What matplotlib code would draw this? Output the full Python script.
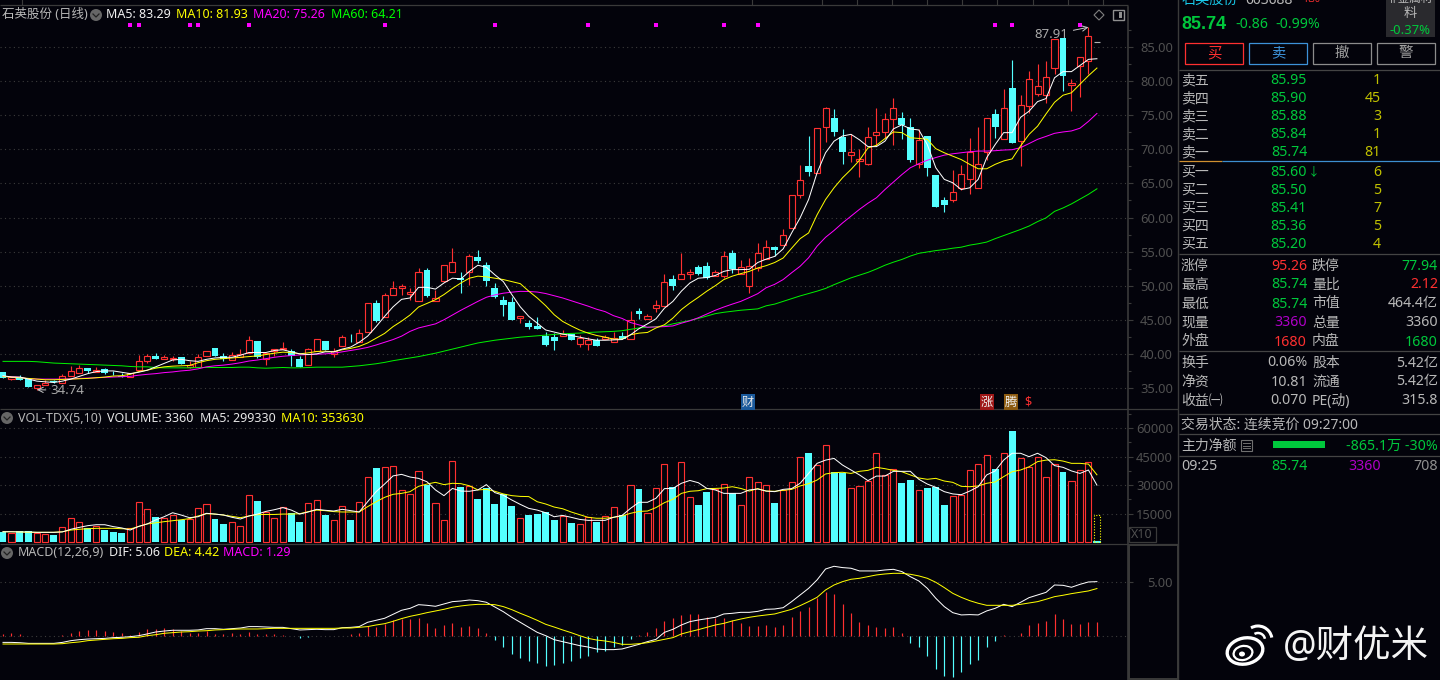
import matplotlib
matplotlib.use("Agg")
import matplotlib.pyplot as plt
from matplotlib.patches import Rectangle, Ellipse, Arc, Polygon

plt.rcParams['font.family'] = ['Noto Sans', 'Noto Sans CJK SC', 'DejaVu Sans']

W, H = 1440, 680
BG = '#03030b'
RED = '#ff3030'
CYAN = '#54ffff'
GRID = '#3c3c3c'
AXIS = '#3a3a3a'
TICK = '#505050'
LABEL = '#b8b8b8'
GREEN = '#00c83c'
LINE_W = 0.72
EDGE_W = 0.82

# Daily prices
opens = [37.3,36.3,36.5,36.3,35.0,35.4,36.0,35.8,36.8,37.25,
         37.9,37.4,37.75,37.4,36.8,36.6,37.7,38.9,39.7,39.2,
         39.3,39.5,38.1,38.04,39.76,40.84,39.66,39.1,39.56,40.15,
         41.9,39.3,40.35,40.7,40.4,39.27,38.44,40.35,41.87,40.0,
         41.2,42.36,41.8,43.19,47.46,45.35,48.58,49.66,48.73,47.7,
         52.36,47.7,50.64,51.96,51.1,51.96,54.27,53.1,49.7,47.95,
         47.65,45.2,44.56,44.1,42.55,42.5,42.55,42.95,41.4,41.43,
         41.97,42.16,41.67,42.65,42.16,46.33,45.05,46.8,46.96,50.98,
         50.94,51.7,52.8,52.95,51.38,51.38,54.86,51.7,49.9,52.6,
         53.97,55.73,55.98,58.48,63.33,67.5,66.57,73.33,74.65,71.81,
         69.2,68.28,67.84,72.15,72.55,74.5,74.56,73.33,67.84,72.0,
         66.17,62.6,62.6,64.3,65.68,64.3,69.65,75.15,71.57,79.07,
         71.2,76.37,78.09,78.0,81.96,86.32,79.5,82.26,83.0,85.74]
closes = [36.5,36.65,36.2,35.2,35.5,35.8,35.9,36.7,37.45,37.9,
          37.45,37.6,37.15,37.3,36.6,37.25,38.9,39.66,39.25,39.5,
          39.4,38.5,38.4,39.6,40.4,39.7,39.3,39.8,40.0,42.0,
          39.56,40.2,40.7,40.84,39.7,38.14,40.7,42.16,40.6,40.4,
          42.46,42.26,43.04,47.46,44.76,48.63,49.66,49.9,49.07,52.0,
          48.53,48.2,53.04,53.5,50.9,54.37,53.68,50.74,48.4,47.2,
          44.9,45.54,43.9,43.7,41.3,41.9,42.9,42.1,42.3,42.0,
          41.18,42.45,42.26,42.16,44.9,45.9,45.54,47.16,50.54,50.0,
          51.7,52.0,51.7,51.08,52.0,54.37,52.45,52.75,52.95,54.8,
          55.7,55.19,57.45,63.33,65.53,66.66,73.18,76.12,72.55,69.6,
          69.65,68.62,71.86,72.6,74.5,76.12,73.5,68.38,71.32,67.25,
          61.52,61.8,63.77,66.42,69.6,67.9,74.65,73.3,76.13,71.0,
          76.57,80.25,79.36,80.54,86.13,80.74,79.8,83.48,86.57,85.74]
highs = [37.3,36.65,36.9,36.3,35.5,36.2,36.2,37.06,38.24,38.4,
         37.9,38.04,37.95,37.5,37.15,37.25,39.85,40.0,40.15,39.8,
         39.7,39.5,38.9,40.0,40.4,40.84,40.1,40.3,40.74,42.65,
         41.9,40.2,40.7,41.77,40.75,39.7,40.85,42.16,41.87,40.84,
         42.8,42.85,43.68,47.46,47.9,48.9,50.74,50.25,49.66,52.65,
         52.65,49.4,53.04,55.6,52.06,54.66,55.3,53.5,50.4,48.5,
         48.3,45.54,45.0,45.4,43.24,43.0,43.5,42.95,42.75,42.5,
         42.4,42.8,43.24,43.14,46.33,46.67,45.84,47.95,51.77,51.5,
         54.86,52.45,53.1,53.5,52.36,55.15,55.3,53.83,54.07,56.28,
         56.77,55.88,58.33,63.33,67.64,71.96,73.18,76.25,75.88,73.0,
         72.2,70.0,73.33,76.0,75.4,77.6,75.54,74.56,73.0,72.0,
         66.17,63.04,66.9,67.74,71.7,73.23,74.65,75.9,78.8,83.09,
         77.9,81.5,82.5,82.9,86.13,86.32,80.3,83.48,87.91,85.74]
lows = [36.5,36.1,36.2,35.2,34.74,35.4,35.8,35.8,36.8,37.25,
        37.2,37.3,37.0,36.9,36.6,36.6,37.7,38.7,39.25,39.2,
        38.9,38.5,38.0,38.04,39.76,39.7,39.0,39.1,39.56,40.15,
        39.45,38.3,39.7,40.7,38.24,38.14,38.44,40.35,40.6,39.56,
        41.2,41.7,41.8,43.19,44.7,45.35,48.58,48.68,47.95,47.7,
        48.3,47.7,50.64,51.96,48.97,50.15,53.3,49.9,48.2,45.6,
        44.9,44.6,43.6,43.7,41.1,40.5,42.55,42.0,41.03,40.5,
        41.1,42.16,41.67,42.16,42.16,45.1,45.05,46.1,46.96,49.3,
        50.94,51.03,51.5,51.0,51.38,51.08,51.87,51.7,49.0,52.1,
        53.97,54.3,55.98,58.48,62.84,66.07,66.57,71.07,71.9,67.8,
        68.13,65.93,67.7,70.5,71.7,70.63,71.47,68.13,67.3,66.07,
        61.52,60.78,62.25,64.0,63.48,64.3,68.5,71.7,71.57,71.0,
        67.55,75.4,77.85,76.86,81.03,78.58,75.64,77.7,81.03,85.74]

ma5 = [36.8,36.6,36.6,36.3,36.0,35.9,35.8,36.0,36.3,36.7,
       37.1,37.4,37.5,37.5,37.3,37.1,37.3,37.6,38.1,38.6,
       39.1,39.2,39.0,38.9,39.2,39.4,39.5,39.5,39.8,40.2,
       40.2,40.2,40.5,40.6,40.3,40.0,39.9,40.0,40.3,40.3,
       40.7,41.0,41.7,42.6,44.0,45.5,46.9,48.0,48.2,49.76,
       49.76,49.5,50.4,51.1,51.0,52.1,53.0,52.7,51.6,50.6,
       48.7,46.9,45.5,44.5,43.5,43.2,42.9,42.7,42.45,42.2,
       42.0,42.0,42.05,42.1,42.8,43.7,44.4,45.15,46.7,47.7,
       49.2,50.4,51.1,51.2,51.5,52.1,52.36,52.36,52.4,53.4,
       53.9,54.3,55.4,57.74,59.95,62.64,66.57,69.5,71.2,71.96,
       72.2,71.4,70.4,70.4,71.2,73.0,73.6,73.0,72.84,70.7,
       67.3,65.6,65.1,64.1,64.36,65.6,68.77,70.7,72.45,72.45,
       74.7,75.6,77.0,77.45,80.5,81.4,81.4,82.3,83.2,83.29]
ma10 = [36.67,36.6,36.5,36.4,36.3,36.2,36.2,36.25,36.3,36.35,
        36.4,36.5,36.6,36.75,36.8,37.0,37.4,37.6,37.9,38.1,
        38.2,38.25,38.3,38.7,39.0,39.2,39.3,39.4,39.5,39.6,
        39.7,39.9,40.1,40.25,40.2,40.0,40.15,40.35,40.4,40.3,
        40.6,40.8,41.1,41.6,42.3,43.0,44.0,44.8,45.7,46.87,
        47.4,47.95,48.7,49.6,50.4,51.1,51.4,51.3,51.1,50.9,
        50.6,50.3,49.2,48.2,47.06,45.74,44.76,44.1,43.5,43.04,
        42.7,42.45,42.16,42.16,42.8,43.04,43.14,43.8,44.27,45.25,
        46.5,47.45,48.3,49.2,50.0,50.9,51.4,51.77,52.1,52.6,
        52.94,53.4,54.06,55.5,56.9,57.74,60.4,62.64,64.36,65.83,
        67.05,68.4,70.2,70.6,71.57,72.55,72.45,71.7,71.6,71.47,
        70.1,69.5,69.0,68.5,67.8,67.15,67.15,67.8,68.3,68.6,
        70.5,72.2,73.4,75.2,76.9,77.94,78.3,79.56,80.8,81.93]
ma20 = [36.7,36.65,36.55,36.35,36.3,36.3,36.3,36.3,36.33,36.4,
        36.45,36.5,36.55,36.6,36.65,36.7,36.87,37.0,37.1,37.25,
        37.35,37.5,37.6,37.8,38.1,38.25,38.35,38.5,38.7,38.95,
        39.1,39.3,39.5,39.65,39.75,39.85,39.9,39.95,40.0,40.1,
        40.3,40.5,40.7,40.95,41.3,41.7,42.1,42.6,43.3,43.8,
        44.1,44.4,45.0,45.7,46.4,47.05,47.7,48.3,48.65,48.9,
        49.05,49.17,49.15,49.07,48.85,48.53,48.2,47.8,47.4,47.0,
        46.55,46.2,45.6,45.2,44.6,44.25,43.9,43.95,44.0,44.1,
        44.5,44.85,45.3,45.84,46.4,46.87,47.3,47.7,48.25,48.83,
        49.7,50.2,50.9,51.9,52.85,54.1,55.8,57.1,58.1,59.2,
        60.2,61.2,62.1,62.9,64.1,65.2,66.3,67.3,67.9,68.4,
        68.8,69.15,69.35,69.5,69.65,69.75,69.75,69.8,69.9,69.95,
        70.25,70.85,71.47,71.9,72.35,72.55,72.7,73.1,74.1,75.26]
ma60 = [38.9,38.9,38.9,38.9,38.85,38.75,38.65,38.6,38.55,38.5,
        38.45,38.4,38.35,38.3,38.25,38.15,38.1,38.1,38.0,37.95,
        37.95,37.95,37.95,38.0,38.0,38.0,38.0,38.0,38.05,38.05,
        37.95,37.9,37.95,38.0,37.95,37.95,38.0,38.05,38.05,38.05,
        38.05,38.15,38.25,38.4,38.55,38.75,39.0,39.2,39.4,39.6,
        39.85,40.1,40.4,40.7,41.0,41.3,41.6,41.8,42.0,42.15,
        42.3,42.45,42.55,42.65,42.75,42.85,42.95,43.0,43.05,43.14,
        43.2,43.25,43.3,43.4,43.6,43.8,43.9,44.0,44.1,44.4,
        44.65,44.9,45.2,45.55,45.9,46.1,46.25,46.4,46.5,46.6,
        47.05,47.3,47.7,48.1,48.5,48.85,49.2,49.6,50.15,50.65,
        51.15,51.55,51.95,52.45,53.0,53.45,53.85,54.35,54.75,54.95,
        55.15,55.3,55.5,55.65,55.95,56.15,56.4,56.9,57.35,57.8,
        58.25,58.75,59.4,59.95,60.9,61.4,62.0,62.7,63.4,64.21]

# Volume, in the units of the axis labels (x10)
volume = [5440,4910,5610,5610,4910,4030,3680,7890,12450,10350,
          7190,8240,6310,5260,4740,7540,20870,17190,12980,12450,
          14030,11400,12280,17720,19820,12100,9470,10350,8240,24560,
          21570,15790,12450,18420,15440,10520,20350,21930,14210,11400,
          18770,11580,20870,34030,38940,39290,39820,27190,25080,37180,
          30170,20350,11400,42450,28940,29290,22630,28410,20000,25260,
          18940,12450,14210,14730,15790,11580,13860,10000,9300,12980,
          10520,13510,18240,14030,29820,27890,15080,28240,40870,28940,
          41920,23500,19470,26310,27890,30340,25610,19290,34030,31400,
          29820,20520,27360,31400,44550,46830,40340,50870,36830,36480,
          28240,29290,31920,46660,35080,38240,31050,32620,27190,28410,
          29120,19470,24030,24560,37710,40870,45600,38410,46660,58410,
          44030,39290,44550,34030,40870,36830,31920,37710,41920,336]
volume_forecast = 14030
vol_ma5 = [5.4,5.4,5.3,5.3,5.1,5.1,5.1,5.3,6.7,7.7,
           8.6,9.1,9.1,8.1,7.4,6.3,8.2,9.5,11.6,13.3,
           15.4,14.2,12.8,13.3,15.1,14.7,14.2,13.0,12.1,13.7,
           14.7,16.1,17.0,18.1,16.8,14.7,15.8,17.2,16.7,16.3,
           17.2,16.5,15.8,21.2,26.5,30.5,34.8,35.6,34.2,33.5,
           31.7,27.4,24.4,28.2,26.8,26.7,27.4,30.2,26.0,24.6,
           22.1,19.8,17.7,16.8,15.4,13.3,14.0,13.0,11.9,11.4,
           11.4,11.4,13.0,14.0,17.7,20.9,20.9,23.0,28.1,28.2,
           30.9,32.4,31.2,28.2,27.4,25.6,25.6,25.6,27.4,27.9,
           26.8,26.5,27.7,28.1,30.9,36.1,41.4,43.1,44.0,40.5,
           37.9,35.3,32.3,34.7,34.7,37.2,37.2,37.2,33.0,30.5,
           28.8,26.5,25.3,24.9,26.8,29.1,35.3,37.4,43.1,46.7,
           46.7,44.9,46.7,44.4,40.2,39.3,37.4,36.1,37.9,29.933]
vol_ma10 = [5.4,5.4,5.3,5.1,5.1,5.1,5.1,5.4,6.3,6.7,
            7.0,7.2,7.2,7.2,7.0,6.8,8.2,9.5,10.1,10.7,
            11.2,11.7,12.3,13.7,14.9,14.7,14.2,13.5,12.8,13.7,
            14.4,14.5,14.5,14.7,14.7,14.9,16.0,16.8,16.5,16.0,
            15.8,15.8,15.8,18.6,21.2,23.5,25.1,25.6,26.5,29.3,
            30.5,31.4,30.2,30.9,30.7,29.6,27.4,27.7,26.7,25.3,
            24.4,24.0,23.9,21.2,20.0,18.4,17.5,15.8,14.4,13.0,
            12.5,12.5,13.0,13.7,15.1,16.1,16.3,18.1,20.7,22.5,
            25.6,26.7,27.0,28.1,28.2,28.4,29.1,28.2,26.8,28.1,
            26.8,26.7,27.2,27.7,29.5,30.7,32.6,35.8,36.5,36.7,
            36.1,37.2,37.7,39.3,38.6,37.7,37.0,35.3,33.7,33.0,
            33.5,32.1,31.4,29.3,29.1,29.5,30.9,31.6,34.4,37.0,
            37.9,39.6,42.3,43.1,43.3,42.6,41.4,41.4,41.0,35.363]

# MACD
dif = [-.56,-.56,-.59,-.65,-.65,-.65,-.65,-.56,-.40,-.31,
       -.25,-.22,-.19,-.12,-.09,-.03,.06,.22,.40,.49,
       .56,.56,.56,.59,.71,.71,.65,.71,.77,.90,
       .90,.86,.83,.83,.71,.59,.62,.65,.62,.62,
       .80,.83,.90,1.30,1.48,1.67,2.04,2.41,2.59,2.93,
       2.87,2.78,2.99,3.21,3.27,3.36,3.30,3.15,2.72,2.28,
       1.76,1.30,.83,.37,.06,-.31,-.49,-.68,-.86,-.99,
       -1.17,-1.23,-1.23,-1.17,-.96,-.74,-.49,-.28,.37,.65,
       1.05,1.36,1.51,1.64,1.76,2.07,2.13,2.22,2.22,2.31,
       2.50,2.53,2.65,3.21,3.83,4.44,5.22,6.23,6.48,6.36,
       6.30,6.05,6.05,6.05,6.14,6.20,5.99,5.52,5.12,4.44,
       3.52,2.75,2.19,1.98,2.01,1.98,2.35,2.59,2.96,2.75,
       3.15,3.58,3.83,4.07,4.75,4.72,4.54,4.81,5.03,5.06]
dea = [-.71,-.71,-.71,-.71,-.71,-.71,-.71,-.68,-.59,-.52,
       -.40,-.34,-.28,-.22,-.19,-.12,-.09,.06,.15,.28,
       .34,.40,.43,.49,.52,.59,.62,.65,.68,.68,
       .68,.71,.74,.74,.74,.74,.74,.74,.74,.74,
       .77,.77,.83,.90,1.05,1.17,1.39,1.64,1.85,2.01,
       2.19,2.35,2.50,2.69,2.81,2.90,2.96,2.96,2.93,2.75,
       2.47,2.13,1.82,1.48,1.11,.86,.59,.34,.06,-.19,
       -.34,-.43,-.56,-.74,-.74,-.68,-.59,-.43,-.28,-.12,
       .22,.43,.62,.83,1.05,1.20,1.42,1.60,1.76,1.88,
       1.98,2.07,2.28,2.50,2.84,3.21,3.61,4.29,4.75,5.06,
       5.28,5.37,5.52,5.68,5.77,5.83,5.83,5.74,5.59,5.37,
       5.00,4.51,3.98,3.61,3.30,3.06,2.87,2.87,2.87,2.87,
       2.96,3.09,3.21,3.43,3.67,3.80,3.95,4.07,4.20,4.42]
macd = [.19,.28,.19,.03,.03,.03,.03,.12,.28,.49,
        .59,.59,.49,.43,.31,.15,.37,.71,.71,.74,
        .68,.49,.34,.34,.49,.25,.22,.31,.25,.40,
        .19,.25,.19,.12,.06,-.19,-.06,.01,.01,.01,
        .06,.19,.31,.93,.90,1.11,1.54,1.60,1.60,1.70,
        1.20,.77,1.05,1.23,.90,.96,.74,.31,-.34,-.96,
        -1.60,-1.98,-2.25,-2.50,-2.72,-2.62,-2.44,-2.25,-2.04,-1.79,
        -1.42,-1.33,-.96,-.80,-.22,.12,.40,.80,1.42,1.70,
        1.98,2.07,2.07,1.79,1.67,1.73,1.48,1.27,.96,.96,
        1.05,.86,1.05,1.82,2.35,2.72,3.58,4.07,3.92,2.99,
        2.19,1.33,1.05,.86,.77,.86,.31,-.62,-.96,-1.79,
        -3.02,-3.64,-3.77,-3.33,-2.56,-2.19,-.96,-.43,.12,.03,
        .31,1.05,1.23,1.42,2.07,1.60,1.14,1.14,1.33,1.29]

x = list(range(len(closes)))
up = [c > o for o, c in zip(opens, closes)]
XLIM = (-3 / 8.48, 1125 / 8.48)

price_ticks = [85, 80, 75, 70, 65, 60, 55, 50, 45, 40, 35]
volume_ticks = [60000, 45000, 30000, 15000]
macd_ticks = [5]
signal_days = [15, 16, 22, 23, 29, 45, 58, 69, 77, 85, 89, 117, 119, 127]

fig = plt.figure(figsize=(W / 100, H / 100), dpi=100, facecolor=BG)


def pane(left, top, right, bottom, ylim):
    ax = fig.add_axes([left / W, 1 - bottom / H, (right - left) / W, (bottom - top) / H])
    ax.set_facecolor(BG)
    ax.set_xlim(*XLIM)
    ax.set_ylim(*ylim)
    ax.set_xticks([])
    for side in ('left', 'top', 'bottom'):
        ax.spines[side].set_visible(False)
    ax.spines['right'].set_color(AXIS)
    ax.spines['right'].set_linewidth(1.2)
    ax.yaxis.tick_right()
    return ax


def axis_ticks(ax, ticks, fmt, minor):
    ax.set_yticks(ticks)
    ax.set_yticklabels([fmt.format(v) for v in ticks], color=TICK, fontsize=9.3, ha='right')
    ax.set_yticks(minor, minor=True)
    ax.tick_params(axis='y', which='major', length=3.8, width=0.8, color=AXIS, pad=28.5)
    ax.tick_params(axis='y', which='minor', length=2.2, width=0.8, color=AXIS)
    ax.grid(axis='y', which='major', color=GRID, linestyle=(0, (1, 3)), linewidth=0.8)
    ax.set_axisbelow(True)


# Candlestick pane
ax_p = pane(0, 7, 1128, 408, (32.06, 90.88))
axis_ticks(ax_p, price_ticks, '{:.2f}', [v + 2.5 for v in price_ticks])
for i in x:
    o, c, h, l = opens[i], closes[i], highs[i], lows[i]
    if o == c:
        ax_p.hlines(c, i - 0.38, i + 0.38, color='#b0b0b0', lw=EDGE_W)
    elif up[i]:
        ax_p.vlines(i, c, h, color=RED, lw=EDGE_W)
        ax_p.vlines(i, l, o, color=RED, lw=EDGE_W)
        ax_p.bar(i, c - o, bottom=o, width=0.72, facecolor=BG, edgecolor=RED, linewidth=EDGE_W)
    else:
        ax_p.vlines(i, l, h, color=CYAN, lw=EDGE_W)
        ax_p.bar(i, c - o, bottom=o, width=0.82, color=CYAN, linewidth=0)
ax_p.plot(x, ma60, color='#00f000', lw=LINE_W)
ax_p.plot(x, ma20, color='#ff00ff', lw=LINE_W)
ax_p.plot(x, ma10, color='#ffff00', lw=LINE_W)
ax_p.plot(x, ma5, color='#ffffff', lw=LINE_W)
ax_p.scatter(signal_days, [88.24] * len(signal_days), marker='s', s=6, color='#ff00ff', linewidths=0)
ax_p.annotate('87.91', xy=(128, 87.91), xytext=(1034, 680 - 34), textcoords='figure pixels',
              color='#a8a8a8', fontsize=9.5, va='center', ha='left',
              arrowprops=dict(arrowstyle='->', color='#c8c8c8', lw=0.7,
                              shrinkA=2, shrinkB=0, relpos=(1, 0.7)))
ax_p.annotate('34.74', xy=(4, 34.74), xytext=(50, 680 - 390), textcoords='figure pixels',
              color='#a8a8a8', fontsize=9.5, va='center', ha='left',
              arrowprops=dict(arrowstyle='->', color='#c8c8c8', lw=0.7,
                              shrinkA=1, shrinkB=0, relpos=(0, 0.5)))

# Volume pane
ax_v = pane(0, 409, 1128, 544, (-1050, 70000))
axis_ticks(ax_v, volume_ticks, '{:d}', [v - 7500 for v in volume_ticks] + [67500])
for i in x:
    if up[i]:
        ax_v.bar(i, volume[i], width=0.72, facecolor=BG, edgecolor=RED, linewidth=EDGE_W)
    else:
        thin = volume[i] < 1000
        ax_v.bar(i, volume[i], width=0.82, color=CYAN, edgecolor=CYAN, linewidth=0.8 if thin else 0)
ax_v.bar(x[-1], volume_forecast, width=0.72, facecolor='none', edgecolor='#ffff00',
         linewidth=0.8, linestyle=(0, (1, 1.5)))
ax_v.plot(x, [v * 1000 for v in vol_ma10], color='#ffff00', lw=LINE_W)
ax_v.plot(x, [v * 1000 for v in vol_ma5], color='#ffffff', lw=LINE_W)

# MACD pane
ax_m = pane(0, 545, 1128, 680, (-4.04, 8.45))
axis_ticks(ax_m, macd_ticks, '{:.2f}', [])
ax_m.axhline(0, color=GRID, linestyle=(0, (1, 3)), linewidth=0.8)
ax_m.vlines([i for i in x if macd[i] >= 0], 0, [m for m in macd if m >= 0], color=RED, lw=0.85)
ax_m.vlines([i for i in x if macd[i] < 0], 0, [m for m in macd if m < 0], color=CYAN, lw=0.85)
ax_m.plot(x, dif, color='#ffffff', lw=LINE_W)
ax_m.plot(x, dea, color='#ffff00', lw=LINE_W)

# Full-figure layer for headers, side panel and decoration
ov = fig.add_axes([0, 0, 1, 1], facecolor='none')
ov.set_xlim(0, W)
ov.set_ylim(H, 0)
ov.axis('off')


def t(px, py, s, color=LABEL, size=9.6, ha='left', **kw):
    ov.text(px, py + 1, s, color=color, fontsize=size, ha=ha, va='center', **kw)


def rule(y, x0=1179, x1=1440, color='#444444', lw=0.9):
    ov.plot([x0, x1], [y, y], color=color, lw=lw, solid_capstyle='butt')


def chevron(px, py):
    ov.add_patch(Ellipse((px, py), 12, 12, color='#666666', lw=0))
    ov.plot([px - 3, px, px + 3], [py - 1, py + 2, py - 1], color='#222222', lw=0.9)


# Pane separators and date strip
rule(5, 0, 1128, '#3a3a3a')
rule(408.5, 0, 1178, '#3a3a3a')
rule(544, 0, 1178, '#3a3a3a')
for px in (22, 752, 822, 857, 892, 927, 962, 997, 1033, 1068, 1103):
    ov.plot([px, px], [0, 5], color='#3a3a3a', lw=0.8)
ov.plot([1178, 1178], [0, 680], color='#3a3a3a', lw=1.0)
ov.add_patch(Rectangle((1128.5, 545), 49.5, 134, fill=False, edgecolor='#3a3a3a', lw=1.4))
ov.add_patch(Rectangle((1128.5, 527), 27, 15, fill=False, edgecolor='#3a3a3a', lw=0.9))
t(1142, 534, 'X10', TICK, 9, ha='center')

# Pane headers
HEAD = 9.0
t(2, 14, '石英股份 (日线)', LABEL, 9.0)
chevron(96, 15)
t(106, 14, 'MA5: 83.29', '#f0f0f0', HEAD)
t(176, 14, 'MA10: 81.93', '#ffff00', HEAD)
t(253, 14, 'MA20: 75.26', '#ff00ff', HEAD)
t(331, 14, 'MA60: 64.21', '#00ff00', HEAD)
ov.add_patch(Polygon([(1099, 10), (1104, 15), (1099, 20), (1094, 15)], fill=False, edgecolor='#808080', lw=0.8))
ov.add_patch(Rectangle((1113, 10), 11, 10, fill=False, edgecolor='#909090', lw=1.0))
ov.add_patch(Rectangle((1119, 12), 3, 6, color='#909090', lw=0))
chevron(7, 418)
t(18, 417, 'VOL-TDX(5,10)', LABEL, HEAD)
t(107, 417, 'VOLUME: 3360', '#e6e6e6', HEAD)
t(200, 417, 'MA5: 299330', '#e6e6e6', HEAD)
t(281, 417, 'MA10: 353630', '#ffff00', HEAD)
chevron(7, 553)
t(18, 552, 'MACD(12,26,9)', LABEL, HEAD)
t(109, 552, 'DIF: 5.06', '#f0f0f0', HEAD)
t(164, 552, 'DEA: 4.42', '#ffff00', HEAD)
t(223, 552, 'MACD: 1.29', '#ff00ff', HEAD)

# Event badges
t(748, 401, '财', '#e8e8e8', 8.8, ha='center', bbox=dict(boxstyle='square,pad=0.1', fc='#1b5a9c', ec='none'))
t(987, 401, '涨', '#f0f0f0', 8.8, ha='center', bbox=dict(boxstyle='square,pad=0.1', fc='#a01818', ec='none'))
t(1011, 401, '腾', '#f0f0f0', 8.8, ha='center', bbox=dict(boxstyle='square,pad=0.1', fc='#8c5a10', ec='none'))
t(1028, 401, '$', RED, 9, ha='center')

# Quote panel: heading
t(1182, -1, '石英股份', '#18c8e8', 10.2)
t(1245, -1, '603688', LABEL, 10)
t(1304, -1, 'R30', RED, 6.5)
ov.add_patch(Rectangle((1386, 0), 49, 37, color='#2a2a2e', lw=0))
t(1410, -2, '非金属材', LABEL, 8.4, ha='center')
t(1410, 12, '料', LABEL, 9.5, ha='center')
t(1410, 29, '-0.37%', GREEN, 9.4, ha='center')
ov.text(1181, 24.5, '85.74', color=GREEN, fontsize=13, ha='left', va='center',
        family=['Liberation Sans'], fontweight='bold')
t(1235, 23, '-0.86', GREEN, 10.2)
t(1275, 23, '-0.99%', GREEN, 10.2)

buttons = [(1185, '买', '#ff3030', '#ff3030'), (1249, '卖', '#3d92d8', '#3d92d8'),
           (1313, '撤', '#8c8c8c', '#a0a0a0'), (1377, '警', '#8c8c8c', '#a0a0a0')]
for bx, label, edge, ink in buttons:
    ov.add_patch(Rectangle((bx, 43), 58, 21, fill=False, edgecolor=edge, lw=0.9))
    t(bx + 29, 52.5, label, ink, 10.4, ha='center')
rule(70)

ask_labels = ['卖五', '卖四', '卖三', '卖二', '卖一']
ask_prices = ['85.95', '85.90', '85.88', '85.84', '85.74']
ask_sizes = ['1', '45', '3', '1', '81']
bid_labels = ['买一', '买二', '买三', '买四', '买五']
bid_prices = ['85.60', '85.50', '85.41', '85.36', '85.20']
bid_sizes = ['6', '5', '7', '5', '4']
QTY = '#c0c000'
rows_y = [80, 98, 116, 134, 152, 171, 189, 207, 225, 243]
book = list(zip(ask_labels + bid_labels, ask_prices + bid_prices, ask_sizes + bid_sizes, rows_y))
for lab, price, size, y in book:
    t(1181, y, lab, LABEL, 10.0)
    t(1307, y, price, GREEN, 10.2, ha='right')
    t(1381, y, size, QTY, 10.2, ha='right')
t(1314, 171, '↓', GREEN, 8.5, ha='center')
rule(161, 1179, 1222, '#d09030')
rule(161, 1222, 1440, '#3d8fd0')
rule(254)

stat_rows = [
    (265, '涨停', '95.26', RED, '跌停', '77.94', GREEN),
    (284, '最高', '85.74', GREEN, '量比', '2.12', RED),
    (303, '最低', '85.74', GREEN, '市值', '464.4亿', LABEL),
    (322, '现量', '3360', '#b000c8', '总量', '3360', LABEL),
    (341, '外盘', '1680', RED, '内盘', '1680', GREEN),
    (362, '换手', '0.06%', LABEL, '股本', '5.42亿', LABEL),
    (381, '净资', '10.81', LABEL, '流通', '5.42亿', LABEL),
    (400, '收益㈠', '0.070', LABEL, 'PE(动)', '315.8', LABEL),
]
for y, a, av, ac, b, bv, bc in stat_rows:
    t(1181, y, a, LABEL, 10.0)
    t(1307, y, av, ac, 10.2, ha='right')
    t(1312, y, b, LABEL, 10.0)
    t(1438, y, bv, bc, 10.2, ha='right')
rule(351)
rule(414)
t(1181, 424, '交易状态: 连续竞价 09:27:00', LABEL, 10.0)
rule(434)
t(1181, 445, '主力净额', LABEL, 10.0)
ov.add_patch(Rectangle((1241, 440), 11, 11, fill=False, edgecolor='#707070', lw=0.8))
for yy in (443, 445.5, 448):
    ov.plot([1243, 1250], [yy, yy], color='#707070', lw=0.7)
ov.add_patch(Rectangle((1273, 441), 52, 7, color='#00c83c', lw=0))
t(1438, 445, '-865.1万 -30%', GREEN, 10.2, ha='right')
rule(456)
t(1181, 466, '09:25', LABEL, 10.2)
t(1307, 466, '85.74', GREEN, 10.2, ha='right')
t(1381, 466, '3360', '#b000c8', 10.2, ha='right')
t(1438, 466, '708', '#909090', 10.2, ha='right')

# Account mark, lower right
ov.add_patch(Ellipse((1245, 651), 36, 26, angle=-12, fill=False, edgecolor='white', lw=2.4))
ov.add_patch(Ellipse((1243, 653), 19, 14, angle=-12, fill=False, edgecolor='white', lw=1.6))
ov.add_patch(Ellipse((1242, 654), 6, 5, color='white', lw=0))
ov.add_patch(Arc((1258, 640), 28, 28, theta1=-70, theta2=40, edgecolor='white', lw=2.2, angle=-50))
ov.add_patch(Arc((1258, 640), 14, 14, theta1=-70, theta2=40, edgecolor='white', lw=1.8, angle=-50))
t(1283, 646, '@财优米', '#f4f4f4', 27)

fig.savefig('out.png', dpi=100, facecolor=BG)
